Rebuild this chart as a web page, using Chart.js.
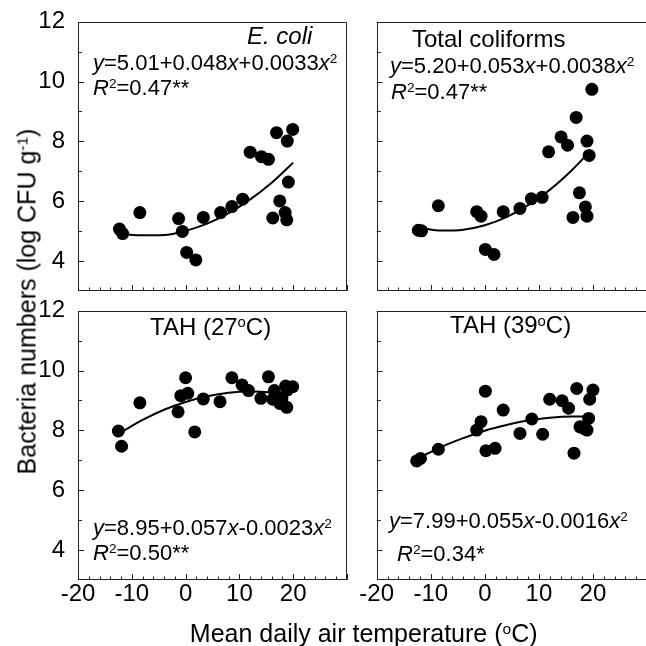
<!DOCTYPE html>
<html>
<head>
<meta charset="utf-8">
<script src="https://cdn.jsdelivr.net/npm/chart.js@4.4.1/dist/chart.umd.min.js"></script>
<style>
html,body{margin:0;padding:0;background:#fff;width:646px;height:646px;overflow:hidden;position:relative;}
canvas{position:absolute;}
.t{position:absolute;font-family:"Liberation Sans",Arial,sans-serif;color:#000;white-space:nowrap;}
.t sup{font-size:0.62em;vertical-align:baseline;position:relative;top:-0.5em;}
</style>
</head>
<body>
<canvas id="cTL" width="360" height="300" style="left:0;top:0"></canvas>
<canvas id="cTR" width="360" height="300" style="left:300px;top:0"></canvas>
<canvas id="cBL" width="360" height="346" style="left:0;top:300px"></canvas>
<canvas id="cBR" width="360" height="346" style="left:300px;top:300px"></canvas>

<div class="t" style="left:247px;top:24.3px;font-size:24px;line-height:24px;font-style:italic">E. coli</div>
<div class="t" style="left:93px;top:52.3px;font-size:22px;line-height:22px"><i>y</i>=5.01+0.048<i>x</i>+0.0033<i>x</i><sup>2</sup></div>
<div class="t" style="left:93px;top:77.3px;font-size:22px;line-height:22px"><i>R</i><sup>2</sup>=0.47**</div>

<div class="t" style="left:412px;top:27.3px;font-size:24px;line-height:24px">Total coliforms</div>
<div class="t" style="left:390px;top:55.3px;font-size:22px;line-height:22px"><i>y</i>=5.20+0.053<i>x</i>+0.0038<i>x</i><sup>2</sup></div>
<div class="t" style="left:391px;top:80.8px;font-size:22px;line-height:22px"><i>R</i><sup>2</sup>=0.47**</div>

<div class="t" style="left:150px;top:314.8px;font-size:24px;line-height:24px">TAH (27<sup>o</sup>C)</div>
<div class="t" style="left:93px;top:517.3px;font-size:22px;line-height:22px"><i>y</i>=8.95+0.057<i>x</i>-0.0023<i>x</i><sup>2</sup></div>
<div class="t" style="left:93px;top:542.3px;font-size:22px;line-height:22px"><i>R</i><sup>2</sup>=0.50**</div>

<div class="t" style="left:450px;top:313.3px;font-size:24px;line-height:24px">TAH (39<sup>o</sup>C)</div>
<div class="t" style="left:389px;top:510.3px;font-size:22px;line-height:22px"><i>y</i>=7.99+0.055<i>x</i>-0.0016<i>x</i><sup>2</sup></div>
<div class="t" style="left:397px;top:542.8px;font-size:22px;line-height:22px"><i>R</i><sup>2</sup>=0.34*</div>

<div class="t" style="left:113.7px;top:620.8px;width:500px;text-align:center;font-size:25px;line-height:25px">Mean daily air temperature (<sup>o</sup>C)</div>
<div class="t" style="left:-223.5px;top:288.5px;width:500px;height:25px;text-align:center;font-size:25px;line-height:25px;transform:rotate(-90deg)">Bacteria numbers (log CFU g<sup>-1</sup>)</div>

<script>
// ---- tick labels ----
const xTickLabels = [-20, -10, 0, 10, 20];
const yTickLabels = [4, 6, 8, 10, 12];

// ---- E. coli ----
const ecoliX = [-12.3,-11.7,-8.5,-1.3,-0.6,0.2,1.9,3.3,6.5,8.6,10.6,12.0,14.1,15.4,16.2,17.5,16.9,19.9,18.9,19.1,18.5,18.8];
const ecoliY = [5.07,4.92,5.62,5.42,4.99,4.29,4.04,5.46,5.62,5.82,6.07,7.64,7.49,7.40,5.44,6.01,8.29,8.40,8.01,6.64,5.62,5.38];
const ecoliCurveX = [-12,-8,-4,0,4,8,12,16,20];
const ecoliCurveY = [4.91,4.86,4.87,5.01,5.25,5.60,6.06,6.62,7.29];

// ---- Total coliforms ----
const tcX = [-12.3,-11.7,-8.6,-1.5,-0.7,0.1,1.7,3.4,6.5,8.6,10.6,11.8,14.1,15.3,16.9,19.8,18.9,19.3,17.5,18.6,18.9,16.3];
const tcY = [5.03,5.01,5.85,5.65,5.50,4.39,4.22,5.65,5.76,6.08,6.13,7.65,8.15,7.87,8.80,9.74,8.01,7.53,6.28,5.81,5.50,5.46];
const tcCurveX = [-12,-8,-4,0,4,8,12,16,19];
const tcCurveY = [5.11,5.02,5.05,5.20,5.47,5.87,6.38,7.02,7.58];

// ---- TAH (27 oC) ----
const tah27X = [-12.5,-11.9,-8.5,-1.4,-0.9,0.0,0.4,1.7,3.3,6.4,8.6,10.5,11.7,14.0,15.4,16.5,16.2,17.5,18.8,18.6,19.9,17.9,18.9];
const tah27Y = [7.98,7.47,8.92,8.62,9.16,9.76,9.24,7.95,9.05,8.96,9.76,9.52,9.33,9.07,9.79,9.33,9.04,8.90,8.77,9.48,9.46,9.07,9.35];
const tah27CurveX = [-12,-8,-4,0,4,8,12,16,19.5];
const tah27CurveY = [7.94,8.35,8.69,8.95,9.14,9.26,9.30,9.27,9.19];

// ---- TAH (39 oC) ----
const tah39X = [-12.6,-11.9,-8.6,-1.5,-0.7,0.1,0.2,1.9,3.4,6.5,8.7,10.7,12.0,14.3,15.5,16.5,17.0,20.0,19.4,19.2,17.6,18.3,18.9];
const tah39Y = [6.98,7.06,7.37,8.01,8.29,9.31,7.32,7.40,8.68,7.90,8.38,7.87,9.04,8.99,8.74,7.24,9.40,9.35,9.04,8.40,8.12,8.07,8.01];
const tah39CurveX = [-12,-8,-4,0,4,8,12,16,19];
const tah39CurveY = [7.10,7.45,7.74,7.99,8.18,8.33,8.42,8.46,8.46];

const X_MIN = -20, X_MAX = 30, Y_MIN = 3, Y_MAX = 12;

const framePlugin = {
  id: 'frame',
  beforeDatasetsDraw(chart) {
    const {ctx, chartArea: a, scales: {x, y}} = chart;
    ctx.save();
    ctx.strokeStyle = '#222';
    ctx.lineWidth = 1;
    ctx.beginPath();
    ctx.rect(Math.round(a.left) + 0.5, Math.round(a.top) + 0.5,
             Math.round(a.right) - Math.round(a.left) - 1, Math.round(a.bottom) - Math.round(a.top) - 1);
    for (let v = X_MIN; v <= X_MAX; v += 2) {
      const px = Math.round(x.getPixelForValue(v)) + 0.5;
      const len = (v % 10 === 0) ? 6 : 3.5;
      ctx.moveTo(px, a.bottom);
      ctx.lineTo(px, a.bottom - len);
    }
    for (let v = Y_MIN + 1; v <= Y_MAX; v += 1) {
      const py = Math.round(y.getPixelForValue(v)) + 0.5;
      const len = (v % 2 === 0) ? 6 : 4;
      ctx.moveTo(a.left, py);
      ctx.lineTo(a.left + len, py);
    }
    ctx.stroke();
    ctx.restore();
  }
};

function pairs(xs, ys) { return xs.map((v, i) => ({x: v, y: ys[i]})); }

function makeChart(id, geom, xs, ys, cx, cy, showX, showY) {
  const canvasH = geom.h;
  const font = {family: '"Liberation Sans", Arial, sans-serif', size: 24};
  return new Chart(document.getElementById(id), {
    data: {
      datasets: [
        {type: 'line', data: pairs(cx, cy), borderColor: '#000', borderWidth: 2,
         pointRadius: 0, fill: false, cubicInterpolationMode: 'monotone', order: 2},
        {type: 'scatter', data: pairs(xs, ys), backgroundColor: '#000', borderWidth: 0,
         pointRadius: 6.5, pointHoverRadius: 6.5, order: 1}
      ]
    },
    options: {
      responsive: false, animation: false, devicePixelRatio: 1,
      layout: {padding: {top: geom.T, right: geom.w - geom.R, left: 0, bottom: 0}},
      plugins: {legend: {display: false}, tooltip: {enabled: false}},
      scales: {
        x: {
          type: 'linear', min: X_MIN, max: X_MAX,
          grid: {display: false, drawTicks: false}, border: {display: false},
          afterBuildTicks: s => { s.ticks = xTickLabels.map(v => ({value: v})); },
          afterFit: s => { s.height = canvasH - geom.B; s.paddingLeft = 0; s.paddingRight = 0; },
          ticks: {display: showX, color: '#000', font: font, padding: 0, maxRotation: 0, autoSkip: false}
        },
        y: {
          type: 'linear', min: Y_MIN, max: Y_MAX,
          grid: {display: false, drawTicks: false}, border: {display: false},
          afterBuildTicks: s => { s.ticks = yTickLabels.map(v => ({value: v})); },
          afterFit: s => { s.width = geom.L; s.paddingTop = 0; s.paddingBottom = 0; },
          ticks: {display: showY, color: '#000', font: font, padding: 13, autoSkip: false}
        }
      }
    },
    plugins: [framePlugin]
  });
}

// geometry relative to each canvas: L, T, R, B = chart area edges
makeChart('cTL', {w: 360, h: 300, L: 78, T: 21.7, R: 347, B: 291}, ecoliX, ecoliY, ecoliCurveX, ecoliCurveY, false, true);
makeChart('cTR', {w: 360, h: 300, L: 76.7, T: 21.7, R: 347, B: 291}, tcX, tcY, tcCurveX, tcCurveY, false, false);
makeChart('cBL', {w: 360, h: 346, L: 78, T: 10.7, R: 347, B: 280}, tah27X, tah27Y, tah27CurveX, tah27CurveY, true, true);
makeChart('cBR', {w: 360, h: 346, L: 76.7, T: 10.7, R: 347, B: 280}, tah39X, tah39Y, tah39CurveX, tah39CurveY, true, false);
</script>
</body>
</html>
